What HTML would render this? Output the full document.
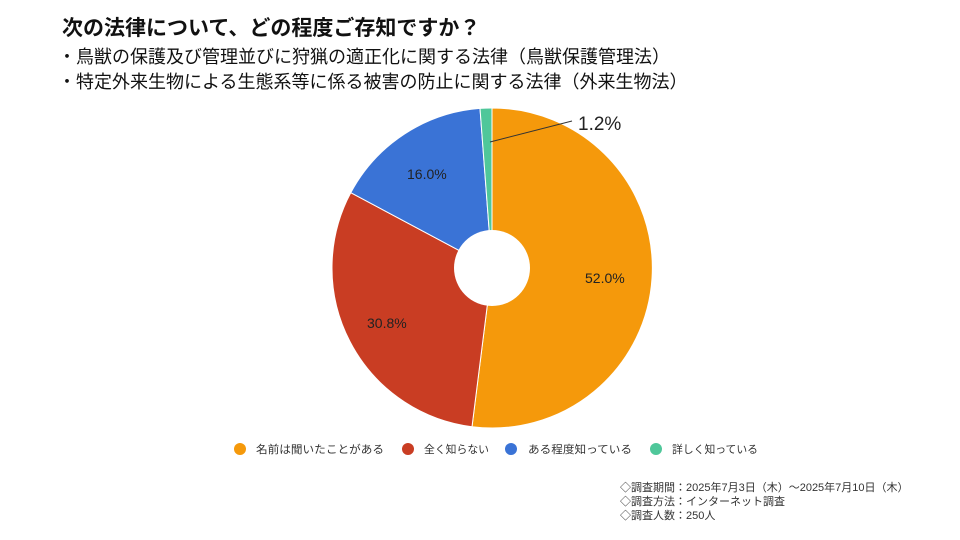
<!DOCTYPE html>
<html><head><meta charset="utf-8"><style>
body{margin:0;width:960px;height:540px;background:#fff;overflow:hidden;font-family:"Liberation Sans","Noto Sans CJK JP",sans-serif;position:relative}
.t{position:absolute;left:62px;color:#111;white-space:nowrap}
</style></head><body>
<div class="t" style="top:12px;font-size:21px;font-weight:bold">次の法律について、どの程度ご存知ですか？</div>
<div class="t" style="top:43px;font-size:18px;left:58px">・鳥獣の保護及び管理並びに狩猟の適正化に関する法律（鳥獣保護管理法）</div>
<div class="t" style="top:68px;font-size:18px;left:58px">・特定外来生物による生態系等に係る被害の防止に関する法律（外来生物法）</div>
<svg width="960" height="540" style="position:absolute;left:0;top:0">
<g stroke="#fff" stroke-width="1">
<path d="M492,268 L492,108 A160,160 0 1,1 472,426.7 Z" fill="#f5990b"/>
<path d="M492,268 L472,426.7 A160,160 0 0,1 350.8,192.7 Z" fill="#c93d23"/>
<path d="M492,268 L350.8,192.7 A160,160 0 0,1 480,108.4 Z" fill="#3a73d6"/>
<path d="M492,268 L480,108.4 A160,160 0 0,1 492,108 Z" fill="#4fc79a"/>
</g>
<circle cx="492" cy="268" r="38" fill="#fff"/>
<line x1="490" y1="142" x2="572" y2="121" stroke="#333" stroke-width="1"/>
<g font-family="Liberation Sans, sans-serif" font-size="14" fill="#222">
<text x="585" y="283">52.0%</text>
<text x="367" y="328">30.8%</text>
<text x="407" y="179">16.0%</text>
<text x="578" y="130" font-size="19">1.2%</text>
</g>
<g font-size="11" fill="#333" font-family="Liberation Sans, Noto Sans CJK JP, sans-serif">
<circle cx="240" cy="449" r="6" fill="#f5990b"/><text x="256" y="453" textLength="128" lengthAdjust="spacingAndGlyphs">名前は聞いたことがある</text>
<circle cx="408" cy="449" r="6" fill="#c93d23"/><text x="424" y="453" textLength="65" lengthAdjust="spacingAndGlyphs">全く知らない</text>
<circle cx="511" cy="449" r="6" fill="#3a73d6"/><text x="528" y="453" textLength="104" lengthAdjust="spacingAndGlyphs">ある程度知っている</text>
<circle cx="656" cy="449" r="6" fill="#4fc79a"/><text x="672" y="453" textLength="86" lengthAdjust="spacingAndGlyphs">詳しく知っている</text>
</g>
<g font-size="11" fill="#333" font-family="Liberation Sans, Noto Sans CJK JP, sans-serif">
<text x="620" y="491">◇調査期間：2025年7月3日（木）～2025年7月10日（木）</text>
<text x="620" y="505">◇調査方法：インターネット調査</text>
<text x="620" y="519">◇調査人数：250人</text>
</g>
</svg>
</body></html>
